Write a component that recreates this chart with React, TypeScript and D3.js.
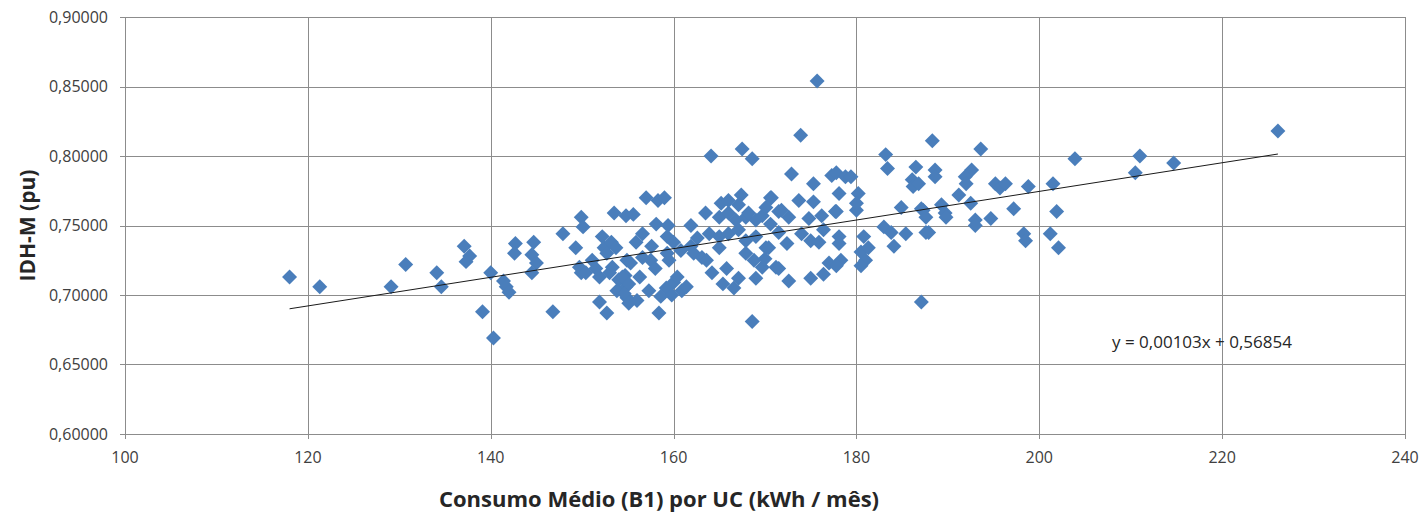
import React from 'react'
import * as d3 from 'd3'

// consumo médio (kWh/mês) x IDH-M
const consumo = [
  118.0, 121.3, 129.1, 130.7, 134.1, 134.6, 137.1, 137.7, 137.3, 139.1, 140.0, 140.3,
  141.4, 141.7, 142.0, 142.7, 142.6, 144.7, 144.5, 145.0, 144.5, 146.8, 147.9, 149.3,
  149.9, 150.1, 149.7, 149.9, 150.4, 151.1, 151.5, 151.9, 152.2, 152.4, 153.2, 152.7,
  153.7, 153.3, 153.0, 154.0, 154.8, 153.8, 154.9, 151.9, 152.7, 154.7, 154.9, 153.5,
  154.8, 155.6, 157.0, 158.3, 159.0, 158.1, 159.4, 156.6, 155.9, 157.6, 159.3, 160.0,
  155.3, 156.6, 157.5, 159.3, 159.5, 154.4, 155.1, 154.6, 155.1, 156.0, 157.3, 158.4,
  159.2, 160.0, 159.8, 160.9, 160.4, 161.4, 160.8, 161.9, 162.2, 161.9, 158.0, 156.3,
  158.6, 163.5, 165.0, 166.0, 166.8, 167.9, 169.0, 169.7, 170.6, 163.9, 165.0, 166.0,
  167.1, 167.9, 169.0, 170.1, 165.0, 167.9, 168.8, 169.7, 171.2, 164.2, 165.8, 167.1,
  166.6, 169.0, 168.6, 163.1, 163.6, 164.1, 167.5, 168.6, 165.2, 166.0, 167.4, 167.1,
  170.6, 170.1, 168.2, 162.6, 165.4, 171.5, 172.6, 174.8, 176.2, 177.7, 180.0, 171.5,
  172.4, 174.0, 175.0, 175.9, 176.4, 178.1, 178.1, 170.4, 171.5, 172.6, 175.0, 176.4,
  177.0, 178.3, 177.8, 175.7, 173.9, 172.9, 177.3, 177.8, 178.8, 179.4, 175.3, 178.1,
  180.2, 170.7, 173.7, 175.3, 171.8, 177.8, 180.0, 170.0, 180.8, 183.0, 183.8, 185.4,
  184.1, 187.6, 180.5, 181.3, 181.0, 180.5, 183.2, 183.4, 186.5, 186.1, 186.2, 184.9,
  187.1, 188.3, 188.6, 188.6, 186.8, 191.2, 189.3, 189.7, 187.3, 187.6, 187.9, 187.1,
  193.6, 192.6, 191.9, 192.0, 192.5, 195.2, 195.7, 196.3, 198.8, 197.2, 194.7, 193.0,
  189.8, 193.0, 198.3, 198.5, 201.2, 202.1, 201.9, 201.5, 203.9, 211.0, 210.5, 214.7,
  226.1,
]

const idhm = [
  0.713, 0.706, 0.706, 0.722, 0.716, 0.706, 0.735, 0.728, 0.724, 0.688, 0.716, 0.669,
  0.710, 0.706, 0.702, 0.737, 0.730, 0.738, 0.729, 0.723, 0.716, 0.688, 0.744, 0.734,
  0.756, 0.749, 0.720, 0.716, 0.716, 0.725, 0.719, 0.713, 0.742, 0.734, 0.738, 0.730,
  0.734, 0.720, 0.716, 0.711, 0.706, 0.703, 0.698, 0.695, 0.687, 0.714, 0.725, 0.759,
  0.757, 0.758, 0.770, 0.768, 0.770, 0.751, 0.750, 0.744, 0.738, 0.735, 0.742, 0.738,
  0.723, 0.727, 0.725, 0.730, 0.725, 0.713, 0.708, 0.701, 0.694, 0.696, 0.703, 0.687,
  0.705, 0.709, 0.700, 0.703, 0.713, 0.706, 0.732, 0.735, 0.730, 0.750, 0.719, 0.713,
  0.699, 0.759, 0.756, 0.759, 0.754, 0.756, 0.754, 0.757, 0.751, 0.744, 0.742, 0.744,
  0.747, 0.739, 0.742, 0.734, 0.734, 0.730, 0.725, 0.720, 0.720, 0.716, 0.719, 0.712,
  0.705, 0.712, 0.681, 0.727, 0.725, 0.800, 0.805, 0.798, 0.766, 0.768, 0.772, 0.765,
  0.770, 0.763, 0.759, 0.741, 0.708, 0.760, 0.756, 0.755, 0.757, 0.760, 0.761, 0.745,
  0.737, 0.744, 0.739, 0.738, 0.747, 0.742, 0.737, 0.734, 0.719, 0.710, 0.712, 0.715,
  0.723, 0.725, 0.721, 0.854, 0.815, 0.787, 0.786, 0.788, 0.785, 0.785, 0.780, 0.773,
  0.773, 0.770, 0.768, 0.767, 0.761, 0.760, 0.766, 0.726, 0.742, 0.749, 0.745, 0.744,
  0.735, 0.745, 0.731, 0.734, 0.725, 0.721, 0.801, 0.791, 0.792, 0.783, 0.778, 0.763,
  0.762, 0.811, 0.790, 0.785, 0.780, 0.772, 0.765, 0.759, 0.761, 0.756, 0.745, 0.695,
  0.805, 0.790, 0.785, 0.780, 0.766, 0.780, 0.777, 0.780, 0.778, 0.762, 0.755, 0.754,
  0.756, 0.750, 0.744, 0.739, 0.744, 0.734, 0.760, 0.780, 0.798, 0.800, 0.788, 0.795,
  0.818,
]

// linear trend as printed on the chart
const trendSlope = 0.00103
const trendIntercept = 0.56854
const trendLabel = 'y = 0,00103x + 0,56854'

const xTicks = [100, 120, 140, 160, 180, 200, 220, 240]
const yTicks = [0.6, 0.65, 0.7, 0.75, 0.8, 0.85, 0.9]

const xTitle = 'Consumo Médio (B1) por UC (kWh / mês)'
const yTitle = 'IDH-M (pu)'

const W = 1420, H = 515
const margin = { top: 17, right: 15, bottom: 81, left: 125 }
const font = '"Open Sans", "Liberation Sans", sans-serif'
const gridColor = '#8c8c8c'
const markerColor = '#4a7ebb'

export default function App() {
  const x = d3.scaleLinear().domain([100, 240]).range([margin.left, W - margin.right])
  const y = d3.scaleLinear().domain([0.6, 0.9]).range([H - margin.bottom, margin.top])
  const fmtY = (v: number) => d3.format('.5f')(v).replace('.', ',')

  const diamond = d3.symbol().type(d3.symbolSquare).size(112)() as string
  const points = consumo.map((c, i) => ({ c, v: idhm[i] }))

  const xMin = d3.min(consumo) as number
  const xMax = d3.max(consumo) as number
  const trend = d3.line<number>().x(d => x(d)).y(d => y(trendSlope * d + trendIntercept))

  const px = (v: number) => Math.round(v) + 0.5

  return (
    <svg width={W} height={H} style={{ position: 'absolute', left: 0, top: 0, background: '#fff' }}>
      {/* gridlines */}
      <g>
        {yTicks.map(t => (
          <line key={'gy' + t} x1={margin.left - 5} x2={x(240)} y1={px(y(t))} y2={px(y(t))} stroke={gridColor} strokeWidth={1} />
        ))}
        {xTicks.map(t => (
          <line key={'gx' + t} x1={px(x(t))} x2={px(x(t))} y1={y(0.9)} y2={y(0.6) + 5} stroke={gridColor} strokeWidth={1} />
        ))}
      </g>

      {/* tick labels */}
      <g fontFamily={font} fontSize={16} fill="#404040">
        {yTicks.map(t => (
          <text key={'ly' + t} x={margin.left - 17} y={y(t)} dy="0.35em" textAnchor="end">{fmtY(t)}</text>
        ))}
        {xTicks.map(t => (
          <text key={'lx' + t} x={x(t)} y={y(0.6) + 29} textAnchor="middle">{t}</text>
        ))}
      </g>

      {/* points */}
      <g fill={markerColor}>
        {points.map((p, i) => (
          <path key={i} d={diamond} transform={`translate(${x(p.c)},${y(p.v)}) rotate(45)`} />
        ))}
      </g>

      {/* trend line */}
      <path d={trend([xMin, xMax]) as string} fill="none" stroke="#1a1a1a" strokeWidth={1} />
      <text x={1112} y={y(0.65) - 17} fontFamily={font} fontSize={17} fill="#262626">{trendLabel}</text>

      {/* axis titles */}
      <text x={659} y={507} textAnchor="middle" fontFamily={font} fontSize={22} fontWeight="bold" fill="#262626">{xTitle}</text>
      <text transform={`translate(35,${(y(0.6) + y(0.9)) / 2}) rotate(-90)`} textAnchor="middle" fontFamily={font} fontSize={21} fontWeight="bold" fill="#262626">{yTitle}</text>
    </svg>
  )
}
